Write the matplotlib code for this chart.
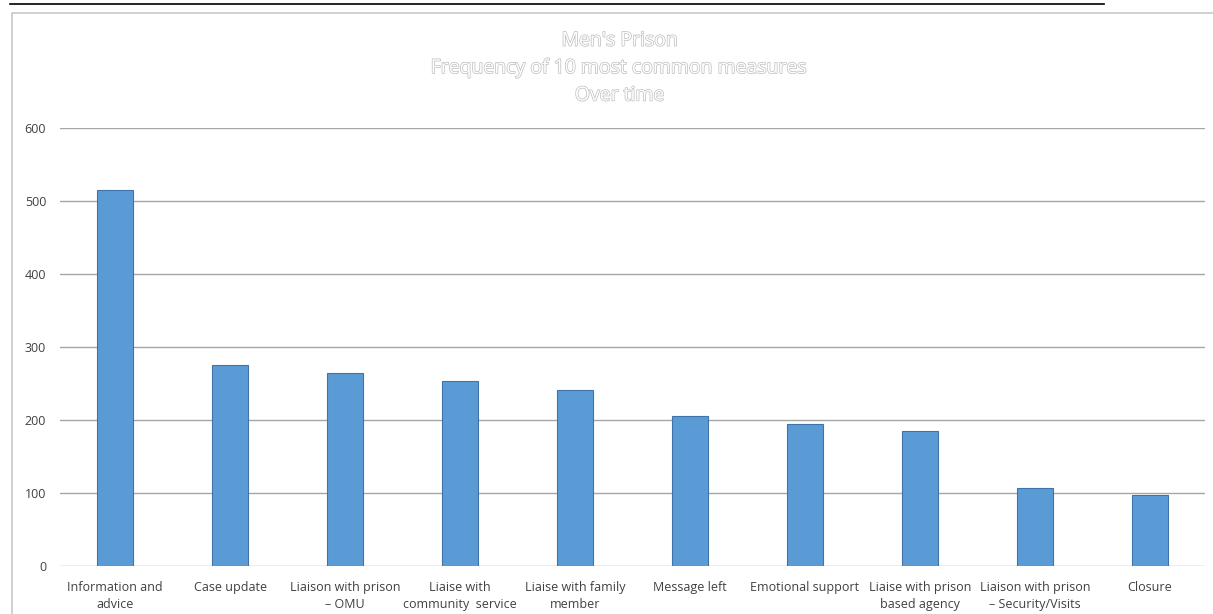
import matplotlib.pyplot as plt
import matplotlib.patheffects as pe
from matplotlib.patches import Rectangle
from matplotlib.lines import Line2D

# Dados do gráfico
categorias = [
    "Information and\nadvice",
    "Case update",
    "Liaison with prison\n– OMU",
    "Liaise with\ncommunity  service",
    "Liaise with family\nmember",
    "Message left",
    "Emotional support",
    "Liaise with prison\nbased agency",
    "Liaison with prison\n– Security/Visits",
    "Closure",
]
frequencias = [515, 275, 265, 254, 241, 206, 195, 185, 107, 97]
yticks = [0, 100, 200, 300, 400, 500, 600]

plt.rcParams['font.family'] = ['Open Sans', 'DejaVu Sans']

fig = plt.figure(figsize=(12.13, 6.14), dpi=100)
ax = fig.add_axes([0.0495, 0.0782, 0.9439, 0.7133])

x = range(len(categorias))
ax.bar(x, frequencias, width=0.31, color='#5b9bd5', edgecolor='#3f74aa',
       linewidth=0.8, zorder=3)

ax.set_xlim(-0.48, len(categorias) - 0.52)
ax.set_ylim(0, 600)
ax.set_yticks(yticks)
ax.set_xticks(list(x))
ax.set_xticklabels(categorias, fontsize=9, color='#404040', linespacing=1.4)
ax.tick_params(axis='y', length=0, pad=10, labelsize=9, labelcolor='#404040')
ax.tick_params(axis='x', length=0, pad=10.5)
ax.grid(axis='y', color='#a6a6a6', linewidth=1, zorder=0)
for s in ax.spines.values():
    s.set_visible(False)

# Título (texto vazado)
fig.text(0.511, 0.889, "Men's Prison\nFrequency of 10 most common measures\nOver time",
         ha='center', va='center', fontsize=14, color='white', linespacing=1.67,
         path_effects=[pe.withStroke(linewidth=1.0, foreground='#bdbdbd')])

# Moldura do gráfico e linha sublinhada no topo
fig.patches.append(Rectangle((0.0099, -0.01), 1.0, 0.9888, transform=fig.transFigure,
                             fill=False, edgecolor='#c8c8c8', linewidth=1.2))
fig.lines.append(Line2D([0.008, 0.91], [0.9935, 0.9935], transform=fig.transFigure,
                        color='black', linewidth=1.2))

fig.savefig('out.png', dpi=100)
